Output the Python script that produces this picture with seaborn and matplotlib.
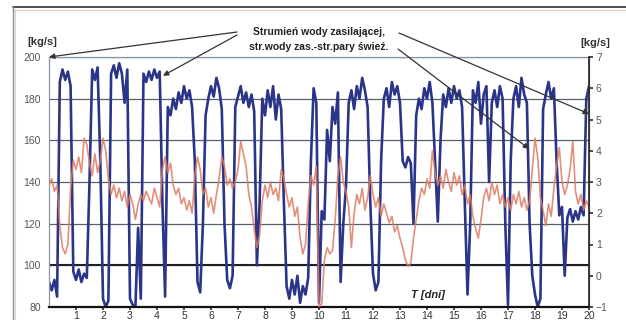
import numpy as np
import pandas as pd
import matplotlib
matplotlib.use("Agg")
import matplotlib.pyplot as plt
import seaborn as sns
from matplotlib.lines import Line2D

days = np.round(np.arange(0, 201) * 0.1, 1)

blue_flow = [
    92, 88, 93, 85, 188, 194, 189, 193, 186, 97,        # day 0
    93, 98, 92, 96, 94, 140, 194, 189, 195, 150,        # day 1
    84, 80, 83, 192, 196, 190, 197, 192, 178, 194,      # day 2
    84, 81, 80, 118, 84, 192, 188, 193, 189, 194,       # day 3
    190, 193, 130, 85, 176, 172, 180, 175, 183, 178,    # day 4
    186, 180, 184, 176, 150, 92, 87, 120, 172, 180,     # day 5
    186, 181, 190, 185, 175, 120, 93, 89, 95, 176,      # day 6
    181, 186, 178, 183, 176, 182, 174, 100, 130, 180,   # day 7
    172, 184, 176, 186, 170, 182, 175, 130, 90, 84,     # day 8
    93, 86, 95, 82, 90, 86, 94, 150, 185, 178,          # day 9
    82, 126, 122, 165, 150, 176, 168, 183, 92, 120,     # day 10
    138, 178, 184, 175, 186, 180, 190, 184, 176, 130,   # day 11
    96, 88, 92, 150, 180, 185, 176, 188, 182, 186,      # day 12
    178, 150, 147, 152, 149, 120, 172, 180, 175, 185,   # day 13
    180, 188, 178, 150, 121, 160, 182, 176, 185, 178,   # day 14
    186, 180, 184, 176, 130, 86, 120, 184, 178, 188,    # day 15
    168, 182, 186, 140, 178, 184, 176, 186, 180, 120,   # day 16
    81, 150, 180, 186, 176, 190, 182, 178, 120, 95,     # day 17
    86, 80, 84, 175, 182, 188, 180, 185, 150, 124,      # day 18
    128, 95, 123, 127, 121, 126, 122, 128, 124, 180,    # day 19
    186,                                                # day 20
]

red_ratio = [
    2.9, 3.1, 2.7, 2.9, 1.6, 0.9, 0.7, 1.0, 2.8, 3.7,   # day 0
    3.4, 3.8, 3.3, 4.4, 4.2, 3.6, 3.2, 3.9, 3.3, 3.7,   # day 1
    4.4, 4.0, 3.1, 2.6, 2.9, 2.5, 2.8, 2.4, 2.7, 2.2,   # day 2
    2.6, 2.3, 1.8, 2.3, 2.6, 2.4, 2.7, 2.5, 2.3, 2.8,   # day 3
    2.5, 2.2, 3.4, 3.8, 3.3, 3.6, 2.9, 2.6, 2.8, 2.3,   # day 4
    2.5, 2.1, 2.4, 2.0, 3.2, 3.8, 3.4, 2.6, 2.8, 2.2,   # day 5
    2.5, 2.0, 2.6, 3.1, 3.8, 3.5, 2.9, 3.1, 2.8, 3.0,   # day 6
    3.4, 4.3, 3.9, 3.5, 2.6, 2.2, 1.5, 0.9, 1.3, 2.4,   # day 7
    2.9, 2.5, 3.0, 2.6, 2.8, 2.4, 3.4, 3.1, 2.6, 2.2,   # day 8
    2.5, 1.9, 2.2, 1.2, 0.7, 1.0, 2.3, 3.2, 2.9, 3.5,   # day 9
    -1.0, -0.9, 0.5, 0.9, 0.7, 0.8, 1.8, 3.2, 3.8, 3.0, # day 10
    2.7, 2.2, 0.9, 2.0, 2.6, 2.3, 2.8, 2.1, 2.5, 3.2,   # day 11
    2.6, 2.2, 2.5, 1.9, 2.3, 2.0, 1.7, 1.9, 1.4, 1.6,   # day 12
    1.2, 0.9, 0.5, 0.3, 0.4, 1.2, 1.8, 2.4, 2.8, 2.6,   # day 13
    3.1, 2.8, 4.0, 3.3, 2.9, 3.2, 2.8, 3.4, 3.0, 2.7,   # day 14
    3.3, 2.9, 3.2, 2.6, 2.9, 2.3, 2.6, 1.9, 1.5, 1.2,   # day 15
    1.8, 2.5, 2.8, 2.4, 3.0, 2.6, 2.9, 2.3, 2.6, 2.2,   # day 16
    2.5, 2.1, 2.6, 2.3, 2.7, 2.2, 2.5, 2.1, 2.4, 3.4,   # day 17
    4.4, 3.8, 2.5, 2.1, 1.6, 2.3, 1.9, 2.8, 3.5, 4.1,   # day 18
    3.0, 2.6, 2.9, 3.4, 4.3, 2.7, 2.3, 2.6, 2.1, 2.4,   # day 19
    2.2,                                                # day 20
]

left_ticks = [80, 100, 120, 140, 160, 180, 200]
right_ticks = [-1, 0, 1, 2, 3, 4, 5, 6, 7]
x_ticks = list(range(1, 21))
title_lines = ["Strumień wody zasilającej,", "str.wody zas.-str.pary świeź."]
unit_label = "[kg/s]"
x_label = "T [dni]"

# ---------------- plotting -------------------------------------------------------
sns.set_theme(style="white")
plt.rcParams['font.family'] = ['Liberation Sans', 'DejaVu Sans']

W, H = 626, 320
fig = plt.figure(figsize=(W / 100, H / 100), dpi=100)
fig.patch.set_facecolor("white")
ax = fig.add_axes([49 / W, 13 / H, 540 / W, 250 / H])

df = pd.DataFrame({"T": days, "blue": blue_flow, "red": red_ratio})

sns.lineplot(data=df, x="T", y="blue", ax=ax, color="#2a3589", lw=1.9)
ax.set_xlim(0, 20)
ax.set_ylim(80, 200)
ax.set_yticks(left_ticks)
ax.yaxis.grid(True, color="#55606c", lw=0.9)
ax.xaxis.grid(False)
ax.axhline(100, color="#1e2226", lw=1.5, zorder=1)
ax.set_xticks(x_ticks)
ax.set_xlabel("")
ax.set_ylabel("")
ax.tick_params(axis="y", labelsize=7.5, labelcolor="#555555", length=0, pad=6)
ax.tick_params(axis="x", labelsize=7.5, labelcolor="#333333", length=2,
               direction="out", color="#333333", pad=1, bottom=True)
for s in ["top", "left", "right"]:
    ax.spines[s].set_color("#8a96a4")
    ax.spines[s].set_linewidth(0.9)
ax.spines["bottom"].set_color("#111111")
ax.spines["bottom"].set_linewidth(1.6)

ax2 = ax.twinx()
sns.lineplot(data=df, x="T", y="red", ax=ax2, color="#de7c62", lw=1.2, alpha=0.85)
ax2.set_ylim(-1, 7)
ax2.set_yticks(right_ticks)
ax2.set_ylabel("")
ax2.tick_params(axis="y", labelsize=7.5, labelcolor="#555555", length=3,
                direction="out", color="#333333", pad=2, right=True)
ax2.spines["right"].set_color("#222222")
ax2.spines["right"].set_linewidth(1.2)
for s in ["top", "left", "bottom"]:
    ax2.spines[s].set_visible(False)

# unit labels
fig.text(42 / W, 1 - 42 / H, unit_label, ha="center", va="center",
         fontsize=8, fontweight="bold", color="#333333")
fig.text(595 / W, 1 - 43 / H, unit_label, ha="center", va="center",
         fontsize=8, fontweight="bold", color="#333333")
fig.text(428 / W, 1 - 295 / H, x_label, ha="center", va="center",
         fontsize=8, fontweight="bold", style="italic", color="#222222")

# annotation text + arrows
fig.text(319 / W, 1 - 32 / H, title_lines[0], ha="center", va="center",
         fontsize=7.5, fontweight="bold", color="#222222")
fig.text(319 / W, 1 - 47 / H, title_lines[1], ha="center", va="center",
         fontsize=7.5, fontweight="bold", color="#222222")

arrow_kw = dict(arrowstyle="-|>", color="#333333", lw=0.9, mutation_scale=8,
                shrinkA=0, shrinkB=0)
ax2.annotate("", xy=(0, 200), xycoords=ax.transData,
             xytext=(237, H - 32), textcoords="figure pixels",
             arrowprops=arrow_kw, annotation_clip=False)
ax2.annotate("", xy=(4.22, 191), xycoords=ax.transData,
             xytext=(237, H - 35), textcoords="figure pixels",
             arrowprops=arrow_kw, annotation_clip=False)
ax2.annotate("", xy=(20, 5.18), xycoords="data",
             xytext=(399, H - 33), textcoords="figure pixels",
             arrowprops=arrow_kw, annotation_clip=False)
ax2.annotate("", xy=(17.78, 4.06), xycoords="data",
             xytext=(398, H - 49), textcoords="figure pixels",
             arrowprops=arrow_kw, annotation_clip=False)

# outer frame of the picture
fig.add_artist(Line2D([13 / W, 1], [1 - 7 / H, 1 - 7 / H], transform=fig.transFigure,
                      color="#3c4248", lw=1.3))
fig.add_artist(Line2D([13 / W, 1], [1 - 9.5 / H, 1 - 9.5 / H], transform=fig.transFigure,
                      color="#f2c9b8", lw=0.8))
fig.add_artist(Line2D([13 / W, 13 / W], [0, 1 - 7 / H], transform=fig.transFigure,
                      color="#7d93a6", lw=1.0))
fig.add_artist(Line2D([15 / W, 15 / W], [0, 1 - 9 / H], transform=fig.transFigure,
                      color="#f2c9b8", lw=0.8))

fig.savefig("out.png", dpi=100)
